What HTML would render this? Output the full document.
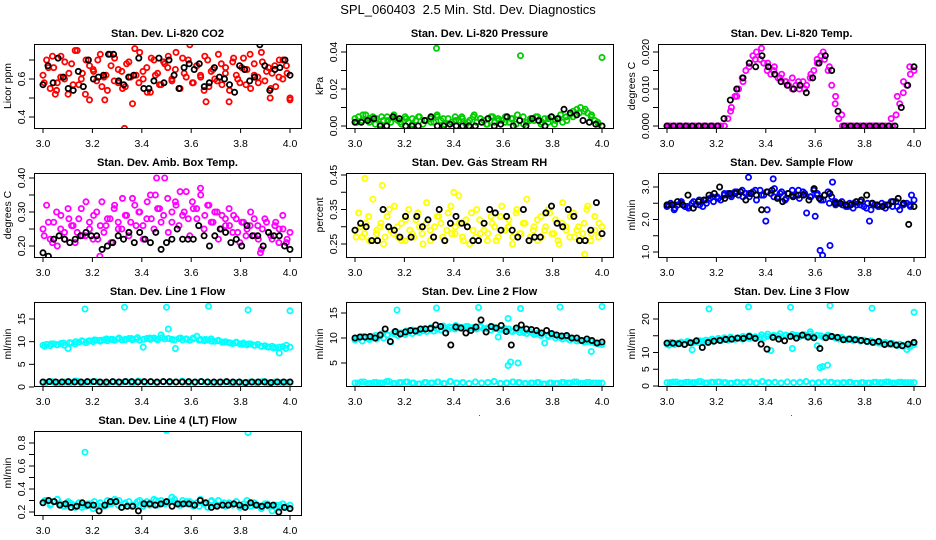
<!DOCTYPE html>
<html><head><meta charset="utf-8"><style>
html,body{margin:0;padding:0;background:#fff;}
svg{display:block;font-family:"Liberation Sans",Arial,sans-serif;}
</style></head><body>
<svg id="chart" width="936" height="540" viewBox="0 0 936 540" xmlns="http://www.w3.org/2000/svg">
<text x="468" y="14" font-size="13" text-anchor="middle" xml:space="preserve">SPL_060403  2.5 Min. Std. Dev. Diagnostics</text>
</svg>
<script>
// ---------- data ----------
const co2Main=[0.62,0.70,0.55,0.66,0.58,0.72,0.60,0.52,0.68,0.75,0.57,0.63,0.70,0.49,0.65,0.59,0.73,0.61,0.54,0.67,0.71,0.58,0.64,0.56,0.69,0.47,0.62,0.74,0.60,0.66,0.53,0.70,0.63,0.57,0.68,0.72,0.59,0.65,0.55,0.71,0.61,0.78,0.58,0.67,0.62,0.54,0.70,0.64,0.60,0.73,0.57,0.66,0.48,0.69,0.62,0.58,0.71,0.65,0.55,0.68,0.61,0.74,0.59,0.66,0.63,0.56,0.70,0.60,0.67,0.50];
const co2Main2=[0.58,0.66,0.72,0.54,0.61,0.69,0.63,0.57,0.75,0.60,0.52,0.67,0.64,0.70,0.56,0.62,0.73,0.59,0.65,0.55,0.68,0.61,0.76,0.58,0.64,0.53,0.71,0.62,0.57,0.69,0.66,0.60,0.74,0.55,0.63,0.70,0.58,0.67,0.61,0.72,0.56,0.65,0.59,0.68,0.63,0.54,0.71,0.60,0.66,0.57,0.73,0.62,0.58,0.69,0.64,0.55,0.67,0.61,0.70,0.63];
const co2OutX=[3.33,3.05,3.25,3.66,3.92,4.0];
const co2OutY=[0.34,0.52,0.49,0.48,0.50,0.49];
const co2Black=[0.57,0.67,0.58,0.71,0.61,0.55,0.54,0.64,0.56,0.70,0.60,0.61,0.62,0.73,0.73,0.59,0.57,0.61,0.62,0.71,0.55,0.55,0.59,0.71,0.58,0.70,0.62,0.55,0.66,0.68,0.65,0.68,0.56,0.58,0.66,0.61,0.60,0.57,0.53,0.67,0.65,0.59,0.61,0.78,0.67,0.54,0.65,0.66,0.70,0.62];

const presMain=[0.004,0.005,0.003,0.006,0.002,0.005,0.004,0.001,0.003,0.005,0.002,0.004,0.003,0.001,0.005,0.002,0.004,0.003,0.005,0.001,0.003,0.004,0.002,0.005,0.003,0.001,0.004,0.002,0.005,0.003,0.004,0.001,0.003,0.005,0.002,0.004,0.003,0.001,0.005,0.002,0.004,0.003,0.005,0.002,0.004,0.001,0.003,0.005,0.002,0.004,0.003,0.005,0.001,0.004,0.002,0.005,0.003,0.004,0.002,0.005,0.006,0.008,0.009,0.010,0.008,0.007,0.005,0.003,0.001,0.000];
const presMain2=[0.002,0.006,0.004,0.001,0.005,0.003,0.006,0.002,0.004,0.001,0.005,0.003,0.002,0.006,0.004,0.001,0.003,0.005,0.002,0.006,0.004,0.001,0.005,0.003,0.002,0.004,0.006,0.001,0.003,0.005,0.002,0.004,0.001,0.006,0.003,0.005,0.007,0.009,0.006,0.002];
const presOutX=[3.33,3.67,4.0];
const presOutY=[0.042,0.038,0.037];
const presBlack=[0.002,0.002,0.003,0.004,0.000,0.000,0.005,0.004,0.000,0.000,0.000,0.003,0.005,0.000,0.000,0.001,0.000,0.000,0.000,0.000,0.002,0.004,0.000,0.001,0.005,0.000,0.003,0.000,0.004,0.003,0.000,0.005,0.004,0.009,0.007,0.006,0.003,0.002,0.001,0.000];

const tempMain=[0,0,0,0,0,0,0,0,0,0,0,0,0,0,0,0,0,0.002,0.005,0.008,0.010,0.013,0.015,0.017,0.019,0.020,0.018,0.017,0.015,0.014,0.016,0.013,0.014,0.012,0.011,0.013,0.011,0.010,0.012,0.011,0.013,0.015,0.017,0.019,0.018,0.015,0.011,0.006,0.002,0,0,0,0,0,0,0,0,0,0,0,0,0,0,0,0.003,0.006,0.009,0.011,0.014,0.015];
const tempMain2=[0,0,0,0,0,0,0,0,0,0,0.004,0.008,0.012,0.016,0.018,0.021,0.017,0.015,0.013,0.012,0.010,0.012,0.010,0.014,0.018,0.020,0.016,0.008,0.003,0,0,0,0,0,0,0,0.002,0.008,0.012,0.016];
const tempOutX=[];
const tempOutY=[];
const tempBlack=[0,0,0,0,0,0,0,0,0,0.002,0.007,0.010,0.013,0.017,0.016,0.019,0.016,0.014,0.012,0.011,0.010,0.011,0.009,0.013,0.017,0.019,0.015,0.004,0,0,0,0,0,0,0,0,0,0.005,0.011,0.016];

const ambMain=[0.25,0.32,0.22,0.27,0.20,0.29,0.24,0.31,0.26,0.21,0.28,0.23,0.33,0.25,0.22,0.30,0.26,0.24,0.28,0.21,0.32,0.27,0.25,0.29,0.23,0.34,0.26,0.30,0.22,0.28,0.35,0.25,0.31,0.27,0.40,0.24,0.30,0.33,0.26,0.29,0.36,0.23,0.31,0.28,0.37,0.25,0.32,0.27,0.30,0.22,0.29,0.26,0.31,0.24,0.28,0.21,0.27,0.25,0.30,0.23,0.26,0.19,0.28,0.24,0.22,0.27,0.25,0.29,0.21,0.24];
const ambMain2=[0.23,0.27,0.21,0.30,0.25,0.22,0.28,0.26,0.24,0.31,0.23,0.27,0.29,0.22,0.33,0.26,0.28,0.31,0.25,0.34,0.29,0.27,0.32,0.30,0.26,0.33,0.28,0.35,0.31,0.29,0.34,0.27,0.32,0.36,0.30,0.28,0.33,0.31,0.35,0.29,0.32,0.27,0.30,0.25,0.28,0.26,0.29,0.24,0.27,0.23,0.26,0.28,0.22,0.25,0.27,0.23,0.26,0.21,0.25,0.22];
const ambOutX=[3.23,3.46,3.88];
const ambOutY=[0.17,0.40,0.18];
const ambBlack=[0.18,0.17,0.22,0.23,0.22,0.21,0.22,0.23,0.24,0.23,0.23,0.19,0.20,0.21,0.23,0.22,0.24,0.21,0.24,0.22,0.21,0.24,0.19,0.21,0.22,0.25,0.22,0.22,0.22,0.26,0.23,0.20,0.23,0.25,0.24,0.21,0.22,0.20,0.26,0.23,0.23,0.20,0.24,0.23,0.23,0.20,0.19];

const rhMain=[0.29,0.34,0.27,0.31,0.26,0.38,0.28,0.30,0.25,0.33,0.29,0.36,0.27,0.31,0.26,0.35,0.28,0.32,0.30,0.25,0.37,0.29,0.27,0.33,0.31,0.26,0.34,0.28,0.30,0.39,0.27,0.32,0.25,0.29,0.35,0.28,0.31,0.26,0.33,0.30,0.27,0.36,0.29,0.32,0.25,0.34,0.28,0.31,0.38,0.27,0.30,0.26,0.33,0.29,0.35,0.28,0.32,0.25,0.37,0.30,0.27,0.34,0.29,0.26,0.31,0.36,0.28,0.33,0.27,0.30];
const rhMain2=[0.27,0.30,0.28,0.33,0.26,0.29,0.31,0.27,0.35,0.28,0.30,0.26,0.32,0.29,0.27,0.34,0.28,0.31,0.26,0.30,0.33,0.27,0.29,0.36,0.28,0.31,0.26,0.30,0.34,0.27,0.32,0.29,0.28,0.31,0.26,0.33,0.29,0.30,0.27,0.35,0.28,0.31,0.26,0.29,0.32,0.27,0.30,0.34,0.28,0.26,0.31,0.29,0.33,0.27,0.30,0.28,0.35,0.26,0.29,0.31];
const rhOutX=[3.04,3.93,3.11,3.40];
const rhOutY=[0.44,0.22,0.42,0.40];
const rhBlack=[0.29,0.31,0.30,0.26,0.26,0.35,0.30,0.29,0.27,0.33,0.27,0.33,0.30,0.32,0.27,0.35,0.26,0.31,0.33,0.31,0.30,0.26,0.26,0.31,0.35,0.34,0.29,0.33,0.29,0.27,0.35,0.26,0.27,0.27,0.34,0.36,0.31,0.30,0.35,0.33,0.26,0.26,0.29,0.37,0.28];

const flowMain=[2.4,2.5,2.3,2.45,2.55,2.4,2.35,2.5,2.45,2.6,2.4,2.5,2.65,2.55,2.7,2.6,2.75,2.8,2.7,2.85,2.75,2.9,2.8,2.7,2.85,2.6,2.9,2.75,2.3,2.8,2.95,2.7,2.85,2.6,2.8,2.9,2.75,2.65,2.85,2.2,2.7,2.9,2.8,2.6,2.75,2.85,2.7,2.55,2.5,2.45,2.4,2.5,2.35,2.45,2.55,2.4,2.5,2.3,2.45,2.4,2.5,2.35,2.45,2.4,2.55,2.3,2.45,2.5,2.4,2.6];
const flowMain2=[2.45,2.35,2.5,2.4,2.55,2.45,2.6,2.7,2.65,2.8,2.75,2.85,2.7,2.8,2.9,2.75,2.85,2.7,2.8,2.65,2.75,2.9,2.8,2.7,2.75,2.6,2.5,2.45,2.55,2.4,2.5,2.45,2.35,2.5,2.4,2.45,2.55,2.4,2.5,2.45];
const flowOutX=[3.33,3.43,3.67,3.40,3.62,3.63,3.66,3.82,3.60,3.99];
const flowOutY=[3.3,3.25,3.15,1.95,1.05,0.9,1.2,1.95,2.1,2.75];
const flowBlack=[2.45,2.45,2.55,2.45,2.75,2.35,2.55,2.6,2.75,2.8,3.0,2.65,2.8,2.8,2.85,2.6,2.8,2.75,2.3,2.85,2.9,2.65,2.55,2.8,2.7,2.75,2.75,2.6,2.95,2.65,2.75,2.8,2.5,2.5,2.45,2.45,2.55,2.6,2.75,2.5,2.45,2.4,2.45,2.55,2.65,2.5,1.85,2.4];

const lowCyan=[1.0,1.2,0.9,1.1,1.0,1.3,0.9,1.1,1.2,1.0,0.8,1.1,1.0,1.2,0.9,1.3,1.0,1.1,0.9,1.2,1.0,1.1,1.3,0.9,1.0,1.2,1.1,0.9,1.0,1.1,0.8,1.0,0.9,1.1,1.0,1.2,0.9,1.1,1.0,1.0];

const l1Main=[9.2,9.4,9.1,9.5,9.3,9.6,9.2,8.5,9.7,9.5,9.9,10.1,9.8,10.2,10.0,10.3,10.1,10.4,10.2,10.5,10.3,10.6,10.4,10.5,10.7,10.4,10.6,10.3,8.8,10.7,10.5,10.8,10.4,11.5,10.6,12.8,10.5,8.5,10.7,10.4,10.6,10.3,10.8,11.2,10.5,10.2,10.4,10.6,10.1,10.3,9.9,10.0,9.8,9.6,9.9,9.5,9.7,9.3,9.5,9.2,9.4,9.0,9.1,8.8,9.0,8.7,7.5,8.9,9.2,8.8];
const l1Main2=[9.0,9.5,9.3,9.7,9.8,10.0,10.2,10.1,10.4,10.3,10.6,10.5,10.8,10.4,10.7,10.9,10.5,10.8,10.6,10.9,10.7,10.4,10.8,10.5,10.6,10.3,10.5,10.1,10.2,9.9,9.7,9.8,9.4,9.5,9.2,9.0,8.9,8.6,8.8,8.5];
const l1OutX=[3.17,3.33,3.50,3.67,3.83,4.0];
const l1OutY=[17.2,17.6,17.6,17.8,17.0,16.8];
const l1Black=[1.1,1.2,1.1,1.1,1.2,1.1,1.1,1.2,1.2,1.1,1.1,1.2,1.1,1.2,1.2,1.1,1.2,1.2,1.1,1.2,1.2,1.1,1.1,1.2,1.1,1.2,1.1,1.1,1.1,1.2,1.1,1.1,1.0,1.1,1.1,1.1,1.0,1.1,1.1,1.1];

const l2Main=[9.6,9.9,9.4,10.1,9.7,10.2,9.8,10.4,10.0,10.6,9.2,10.8,10.5,11.0,10.7,11.2,10.9,11.4,11.1,11.5,11.3,11.7,11.4,11.9,11.6,12.0,11.7,12.1,11.8,12.2,11.9,12.3,12.0,12.1,11.8,12.2,11.9,12.0,11.6,11.9,10.2,11.7,11.5,11.8,11.3,11.6,11.1,11.4,10.9,11.2,10.7,11.0,10.5,9.0,10.3,10.6,10.0,10.2,9.8,10.0,9.6,9.8,9.4,9.5,9.2,9.3,7.3,9.0,8.8,8.7];
const l2Main2=[9.9,10.3,10.0,10.5,10.8,10.6,11.1,11.0,11.4,11.6,11.5,11.9,12.1,11.8,12.4,12.2,12.5,12.1,12.3,12.0,12.4,11.9,12.2,11.7,11.9,11.4,11.6,11.1,11.3,10.8,10.9,10.5,10.6,10.1,10.2,9.8,9.6,9.3,9.2,8.9];
const l2OutX=[3.17,3.33,3.50,3.67,3.83,4.0,3.62,3.63,3.66,3.62];
const l2OutY=[15.6,16.0,16.1,15.9,16.2,16.3,4.5,5.2,5.0,13.9];
const l2Black=[10.0,10.2,10.2,10.3,10.0,10.6,11.8,9.3,11.3,10.8,11.2,11.5,11.4,11.8,11.8,11.9,12.6,12.3,11.0,8.6,12.2,12.0,11.0,11.5,12.2,13.6,11.2,12.3,12.0,12.5,11.3,8.6,12.0,12.6,11.8,11.7,11.5,11.0,11.5,10.9,10.6,10.4,10.5,10.0,10.0,9.5,9.8,9.5,9.0,9.2];

const l3Main=[12.5,13.0,12.4,12.8,13.1,12.6,13.0,10.8,13.2,12.9,13.4,13.1,13.6,13.3,13.8,13.5,14.0,13.7,14.1,13.9,14.3,14.0,14.4,14.2,14.5,14.3,14.6,14.4,14.8,10.6,14.9,15.0,14.6,15.2,14.8,11.2,15.1,14.7,15.3,14.9,15.6,14.8,12.0,15.0,14.6,15.2,14.7,14.4,14.0,14.3,13.8,14.1,13.6,13.9,13.4,13.7,13.2,13.5,13.0,13.2,12.8,13.0,12.5,12.7,12.3,12.5,12.1,10.9,12.2,12.4];
const l3Main2=[12.2,12.7,12.9,13.3,13.0,13.5,13.7,14.0,14.2,14.4,14.6,14.3,14.8,15.0,14.7,15.3,15.5,15.1,15.6,15.2,15.4,15.0,15.3,14.9,15.1,14.6,14.8,14.3,14.5,14.0,13.8,13.5,13.3,13.0,12.8,12.6,12.4,12.1,11.9,11.6];
const l3OutX=[3.17,3.33,3.50,3.66,3.83,4.0,3.62,3.63,3.65,3.58];
const l3OutY=[23.0,23.6,23.5,24.0,23.2,22.0,5.5,5.8,6.2,16.2];
const l3Black=[12.8,12.8,12.6,12.4,12.9,13.5,11.5,13.0,13.4,13.6,13.9,14.0,14.3,14.2,14.8,14.2,12.5,11.0,14.5,14.0,13.5,14.8,14.3,15.2,14.6,14.4,11.2,14.4,14.8,14.5,13.8,14.0,13.8,13.6,13.3,13.0,13.3,12.4,12.6,12.2,12.0,12.5,13.0];

const l4Main=[0.28,0.30,0.26,0.29,0.31,0.27,0.25,0.29,0.27,0.24,0.28,0.26,0.25,0.27,0.23,0.26,0.28,0.25,0.30,0.27,0.31,0.26,0.24,0.28,0.29,0.26,0.27,0.30,0.25,0.29,0.28,0.31,0.26,0.30,0.27,0.29,0.33,0.28,0.26,0.30,0.27,0.29,0.25,0.28,0.31,0.27,0.24,0.29,0.26,0.30,0.27,0.25,0.28,0.26,0.29,0.24,0.27,0.30,0.25,0.28,0.26,0.23,0.27,0.25,0.21,0.26,0.24,0.27,0.25,0.26];
const l4Main2=[0.30,0.27,0.31,0.25,0.28,0.26,0.24,0.27,0.29,0.25,0.26,0.28,0.30,0.27,0.25,0.29,0.28,0.26,0.30,0.27,0.28,0.31,0.26,0.29,0.27,0.25,0.28,0.30,0.26,0.28,0.27,0.29,0.25,0.27,0.26,0.24,0.27,0.25,0.26,0.24];
const l4OutX=[3.17,3.50,3.83];
const l4OutY=[0.72,0.91,0.89];
const l4Black=[0.28,0.30,0.29,0.26,0.27,0.24,0.25,0.28,0.26,0.26,0.21,0.26,0.29,0.29,0.24,0.25,0.25,0.21,0.27,0.27,0.26,0.27,0.29,0.25,0.27,0.27,0.27,0.26,0.30,0.28,0.24,0.25,0.26,0.26,0.27,0.26,0.24,0.28,0.26,0.25,0.26,0.26,0.20,0.24,0.23];

const xTicks=[3.0,3.2,3.4,3.6,3.8,4.0];
const xTickLabels=["3.0","3.2","3.4","3.6","3.8","4.0"];

// ---------- layout ----------
const NS="http://www.w3.org/2000/svg";
const svg=document.getElementById('chart');
const colLeft=[34,346,658], rowTop=[44,173,302,431], W=267, H=84;
function mk(tag,attrs,parent){const e=document.createElementNS(NS,tag);for(const k in attrs)e.setAttribute(k,attrs[k]);(parent||svg).appendChild(e);return e;}

const panels=[
 {name:'co2',title:'Stan. Dev. Li-820 CO2',ylab:'Licor ppm',c:0,r:0,cal:[0.4,117,0.6,79],ticks:[0.4,0.5,0.6,0.7],labs:['0.4','','0.6',''],col:'#ff0000',main:co2Main,main2:co2Main2,ox:co2OutX,oy:co2OutY,black:co2Black},
 {name:'pressure',title:'Stan. Dev. Li-820 Pressure',ylab:'kPa',c:1,r:0,cal:[0,126,0.04,52],ticks:[0,0.01,0.02,0.03,0.04],labs:['0.00','','0.02','','0.04'],col:'#00cc00',main:presMain,main2:presMain2,ox:presOutX,oy:presOutY,black:presBlack},
 {name:'li820-temp',title:'Stan. Dev. Li-820 Temp.',ylab:'degrees C',c:2,r:0,cal:[0,126,0.02,52],ticks:[0,0.005,0.01,0.015,0.02],labs:['0.000','','0.010','','0.020'],col:'#ff00ff',main:tempMain,main2:tempMain2,ox:tempOutX,oy:tempOutY,black:tempBlack},
 {name:'amb-box-temp',title:'Stan. Dev. Amb. Box Temp.',ylab:'degrees C',c:0,r:1,cal:[0.2,246,0.4,178],ticks:[0.2,0.25,0.3,0.35,0.4],labs:['0.20','','0.30','','0.40'],col:'#ff00ff',main:ambMain,main2:ambMain2,ox:ambOutX,oy:ambOutY,black:ambBlack},
 {name:'gas-stream-rh',title:'Stan. Dev. Gas Stream RH',ylab:'percent',c:1,r:1,cal:[0.25,244,0.45,175],ticks:[0.25,0.3,0.35,0.4,0.45],labs:['0.25','','0.35','','0.45'],col:'#ffff00',main:rhMain,main2:rhMain2,ox:rhOutX,oy:rhOutY,black:rhBlack},
 {name:'sample-flow',title:'Stan. Dev. Sample Flow',ylab:'ml/min',c:2,r:1,cal:[1,252,3,187],ticks:[1,1.5,2,2.5,3],labs:['1.0','','2.0','','3.0'],col:'#0000ff',main:flowMain,main2:flowMain2,ox:flowOutX,oy:flowOutY,black:flowBlack},
 {name:'line1-flow',title:'Stan. Dev. Line 1 Flow',ylab:'ml/min',c:0,r:2,cal:[0,387,15,319],ticks:[0,5,10,15],labs:['0','5','10','15'],col:'#00ffff',main:l1Main,main2:l1Main2,low:lowCyan,ox:l1OutX,oy:l1OutY,black:l1Black},
 {name:'line2-flow',title:'Stan. Dev. Line 2 Flow',ylab:'ml/min',c:1,r:2,cal:[5,363,15,313],ticks:[5,10,15],labs:['5','10','15'],col:'#00ffff',main:l2Main,main2:l2Main2,low:lowCyan,ox:l2OutX,oy:l2OutY,black:l2Black},
 {name:'line3-flow',title:'Stan. Dev. Line 3 Flow',ylab:'ml/min',c:2,r:2,cal:[0,386,20,319],ticks:[0,5,10,15,20],labs:['0','5','10','','20'],col:'#00ffff',main:l3Main,main2:l3Main2,low:lowCyan,ox:l3OutX,oy:l3OutY,black:l3Black},
 {name:'line4-flow',title:'Stan. Dev. Line 4 (LT) Flow',ylab:'ml/min',c:0,r:3,cal:[0.2,512,0.8,443],ticks:[0.2,0.3,0.4,0.5,0.6,0.7,0.8],labs:['0.2','','0.4','','0.6','','0.8'],col:'#00ffff',main:l4Main,main2:l4Main2,ox:l4OutX,oy:l4OutY,black:l4Black}
];

panels.forEach(p=>{
  const L=colLeft[p.c], T=rowTop[p.r], B=T+H, R=L+W;
  const xs=v=>L+9+(v-3)*247;
  const ys=v=>p.cal[1]+(v-p.cal[0])*(p.cal[3]-p.cal[1])/(p.cal[2]-p.cal[0]);
  const g=mk('g',{});
  
  
  const t=mk('text',{x:L+W/2,y:T-7,'font-size':'11','font-weight':'bold','text-anchor':'middle'},g);
  t.textContent=p.title;
  
  
  const cid='clip-'+p.name;
  const cp=mk('clipPath',{id:cid},g); mk('rect',{x:L,y:T,width:W,height:H},cp);
  const pts=mk('g',{'clip-path':'url(#'+cid+')',fill:'none','stroke-width':'1.8'},g);
  function dot(x,y,color,nm){
    const c=mk('circle',{cx:xs(x).toFixed(1),cy:ys(y).toFixed(1),r:'2.6',stroke:color},pts);
    
    
  }
  if(p.low){p.low.forEach((v,i)=>dot(3+i/(p.low.length-1),v,p.col,p.name+'-low-point'));
            p.low.forEach((v,i)=>dot(3+(i+0.5)/(p.low.length),v,p.col,p.name+'-low-point'));}
  p.main.forEach((v,i)=>dot(3+i/(p.main.length-1),v,p.col,p.name+'-point'));
  p.main2.forEach((v,i)=>dot(3+(i+0.3)/(p.main2.length),v,p.col,p.name+'-point'));
  p.ox.forEach((x,i)=>dot(x,p.oy[i],p.col,p.name+'-outlier'));
  p.black.forEach((v,i)=>dot(3+i/(p.black.length-1),v,'#000',p.name+'-black-point'));
  const box=mk('rect',{x:L+0.5,y:T+0.5,width:W,height:H,fill:'none',stroke:'#000','stroke-width':'1'},g);
  
  
  mk('line',{x1:xs(3),x2:xs(4),y1:B+0.5,y2:B+0.5,stroke:'#000'},g);
  xTicks.forEach((v,i)=>{
    mk('line',{x1:xs(v),x2:xs(v),y1:B,y2:B+5,stroke:'#000'},g);
    const tl=mk('text',{x:xs(v),y:B+19,'font-size':'10.5','text-anchor':'middle'},g);
    tl.textContent=xTickLabels[i];
    
    
  });
  const xd=mk('text',{x:L+W/2,y:B+30,'font-size':'8','text-anchor':'middle'},g); xd.textContent='.';
  
  
  mk('line',{x1:L+0.5,x2:L+0.5,y1:ys(p.ticks[0]),y2:ys(p.ticks[p.ticks.length-1]),stroke:'#000'},g);
  p.ticks.forEach((v,i)=>{
    const y=ys(v);
    mk('line',{x1:L-5,x2:L,y1:y,y2:y,stroke:'#000'},g);
    if(p.labs[i]){
      const tl=mk('text',{x:0,y:0,'font-size':'10.5','text-anchor':'middle',transform:`translate(${L-9},${y}) rotate(-90)`},g);
      tl.textContent=p.labs[i];
      
      
    }
  });
  const yl=mk('text',{x:0,y:0,'font-size':'10.5','text-anchor':'middle',transform:`translate(${L-23},${T+H/2}) rotate(-90)`},g);
  yl.textContent=p.ylab;
  
  
});
</script>
</body></html>
